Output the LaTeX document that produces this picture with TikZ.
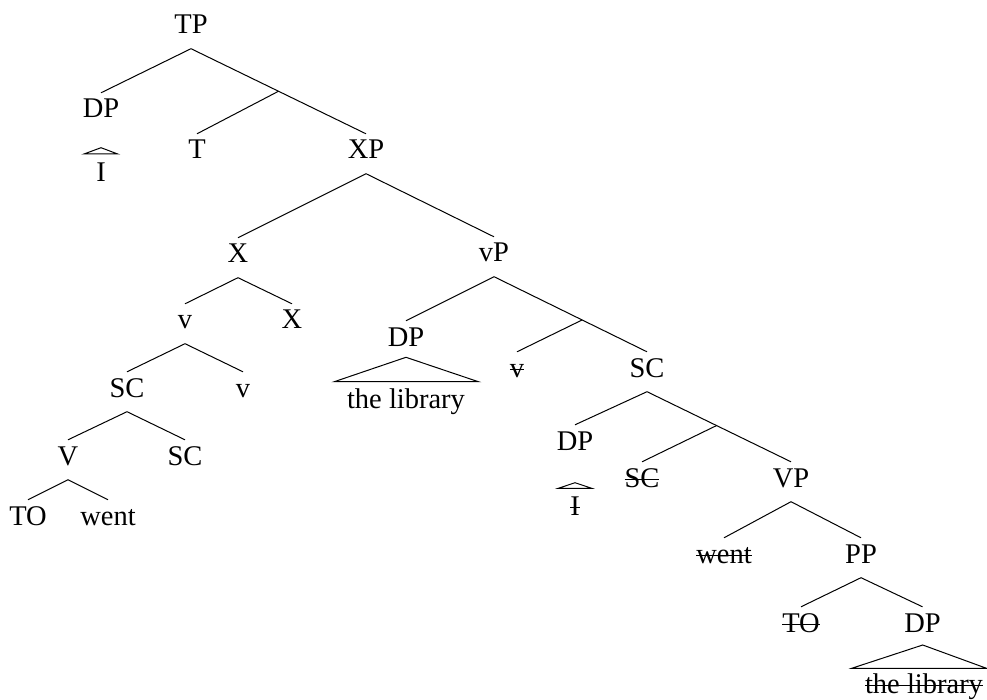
\documentclass[tikz,border=0pt]{standalone}
\usepackage{fontspec}
\setmainfont{Liberation Serif}
\usetikzlibrary{calc}
\newcommand\strk[1]{\setbox0=\hbox{#1}\rlap{\rule[7.5pt]{\wd0}{1pt}}\box0}
\begin{document}
\begin{tikzpicture}[x=1pt,y=-1pt,
  lbl/.style={font=\fontsize{28.5}{34}\selectfont, inner xsep=0pt, inner ysep=6pt,
    text height=19pt, text depth=8.5pt, anchor=base},
  edge/.style={line width=1pt, line join=miter}]
\useasboundingbox (0,0) rectangle (987,700);
% nodes
\node[lbl] (TP)  at (191,34)  {TP};
\node[lbl] (DPa) at (101,118) {DP};
\node[lbl] (Ia)  at (101,182) {I};
\node[lbl] (T)   at (197,159) {T};
\node[lbl] (XP)  at (366,159) {XP};
\node[lbl] (Xa)  at (238,263) {X};
\node[lbl] (vP)  at (494,262) {vP};
\node[lbl] (va)  at (185,329) {v};
\node[lbl] (Xb)  at (292,329) {X};
\node[lbl] (SCa) at (127,397) {SC};
\node[lbl] (vb)  at (243,397) {v};
\node[lbl] (V)   at (68,465)  {V};
\node[lbl] (SCb) at (185,465) {SC};
\node[lbl] (TOa) at (28,525)  {TO};
\node[lbl] (wa)  at (108,525) {went};
\node[lbl] (DPb) at (406,346) {DP};
\node[lbl] (lba) at (406,408) {the library};
\node[lbl] (vc)  at (517,377) {\strk{v}};
\node[lbl] (SCc) at (647,377) {SC};
\node[lbl] (DPc) at (575,450) {DP};
\node[lbl] (Ib)  at (575,515) {\strk{I}};
\node[lbl] (SCd) at (642,487) {\strk{SC}};
\node[lbl] (VP)  at (791,487) {VP};
\node[lbl] (wb)  at (724,563) {\strk{went}};
\node[lbl] (PP)  at (861,563) {PP};
\node[lbl] (TOb) at (801,632) {\strk{TO}};
\node[lbl] (DPd) at (922.5,632) {DP};
\node[lbl] (lbb) at (924,693) {\strk{the library}};
% junctions
\coordinate (j1) at ($(TP.south)!0.5!(XP.north)$);
\coordinate (j2) at ($(vP.south)!0.576!(SCc.north)$);
\coordinate (j3) at ($(SCc.south)!0.483!(VP.north)$);
% edges
\draw[edge] (DPa.north) -- (TP.south) -- (j1) -- (XP.north);
\draw[edge] (j1) -- (T.north);
\draw[edge] (Xa.north) -- (XP.south) -- (vP.north);
\draw[edge] (va.north) -- (Xa.south) -- (Xb.north);
\draw[edge] (SCa.north) -- (va.south) -- (vb.north);
\draw[edge] (V.north) -- (SCa.south) -- (SCb.north);
\draw[edge] (TOa.north) -- (V.south) -- (wa.north);
\draw[edge] (DPb.north) -- (vP.south) -- (j2) -- (SCc.north);
\draw[edge] (j2) -- (vc.north);
\draw[edge] (DPc.north) -- (SCc.south) -- (j3) -- (VP.north);
\draw[edge] (j3) -- (SCd.north);
\draw[edge] (wb.north) -- (VP.south) -- (PP.north);
\draw[edge] (TOb.north) -- (PP.south) -- (DPd.north);
% triangles
\coordinate (ta) at (101,147.7);
\draw[edge] (ta) -- (84,154) -- (117.7,154) -- cycle;
\coordinate (tb) at (406,357.3);
\draw[edge] (tb) -- (334.3,381.7) -- (478.3,381.7) -- cycle;
\coordinate (tc) at (575,482.7);
\draw[edge] (tc) -- (558.3,488.3) -- (591.7,488.3) -- cycle;
\coordinate (td) at (922.7,645);
\draw[edge] (td) -- (851.7,668.3) -- (986.5,668.3) -- cycle;
\end{tikzpicture}
\end{document}
